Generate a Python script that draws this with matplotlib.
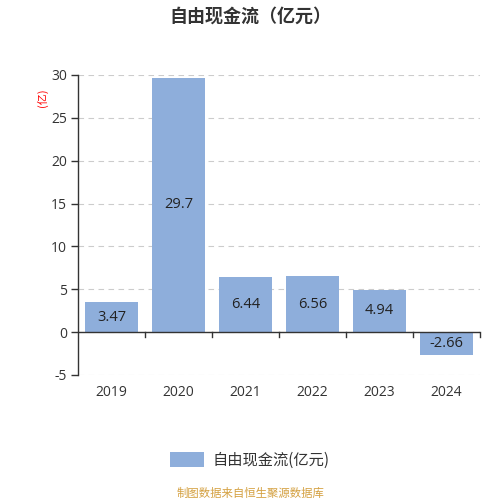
import matplotlib
matplotlib.use("Agg")
import matplotlib.pyplot as plt
from matplotlib.patches import Patch

plt.rcParams['font.family'] = ['Noto Sans CJK SC', 'DejaVu Sans']
NUMFONT = ['Open Sans', 'Noto Sans CJK SC', 'DejaVu Sans']

years = ["2019", "2020", "2021", "2022", "2023", "2024"]
values = [3.47, 29.7, 6.44, 6.56, 4.94, -2.66]
labels = ["3.47", "29.7", "6.44", "6.56", "4.94", "-2.66"]
yticks = [-5, 0, 5, 10, 15, 20, 25, 30]

bar_color = "#8EAEDB"
fig = plt.figure(figsize=(5, 5), dpi=100)
ax = fig.add_axes([0.156, 0.25, 0.804, 0.60])

x = list(range(len(years)))
ax.bar(x, values, width=0.8, color=bar_color, zorder=3)
for xi, v, lab in zip(x, values, labels):
    ax.text(xi, v / 2, lab, ha="center", va="center", fontsize=10.5, color="#222222",
            zorder=4, family=NUMFONT)

ax.set_xlim(-0.5, len(years) - 0.5)
ax.set_ylim(-5, 30)
ax.set_yticks(yticks)
ax.set_yticklabels([str(t) for t in yticks], fontsize=10, color="#333333", family=NUMFONT)
ax.yaxis.grid(True, linestyle=(0, (5, 4)), color="#CCCCCC", linewidth=0.8, zorder=0)
ax.set_axisbelow(True)

for s in ["top", "right", "bottom"]:
    ax.spines[s].set_visible(False)
ax.spines["left"].set_color("#333333")
ax.spines["left"].set_linewidth(1)
ax.tick_params(axis="y", length=5, color="#333333", width=1, pad=3)

# zero baseline with category boundary ticks
ax.axhline(0, color="#333333", linewidth=1, zorder=5)
ax.set_xticks(x)
ax.set_xticklabels(years, fontsize=10, color="#333333", family=NUMFONT)
ax.tick_params(axis="x", length=0, pad=7)
for b in [i + 0.5 for i in x]:
    ax.plot([b, b], [0, -0.6], color="#333333", linewidth=1, zorder=5, clip_on=False)

fig.text(0.084, 0.805, "(亿)", rotation=90, color="red", fontsize=8, ha="center", va="center")
fig.text(0.5, 0.968, "自由现金流（亿元）", ha="center", va="center", fontsize=13, fontweight="bold", color="#333333")

handle = Patch(facecolor=bar_color, edgecolor="none")
leg = fig.legend([handle], ["自由现金流(亿元)"], loc="center", bbox_to_anchor=(0.5, 0.08),
                 frameon=False, fontsize=11, handlelength=2.2, handleheight=1.1, handletextpad=0.6)
for t in leg.get_texts():
    t.set_color("#333333")

fig.text(0.5, 0.014, "制图数据来自恒生聚源数据库", ha="center", va="center", fontsize=8.2, color="#D4A040")

fig.savefig("out.png", dpi=100)
